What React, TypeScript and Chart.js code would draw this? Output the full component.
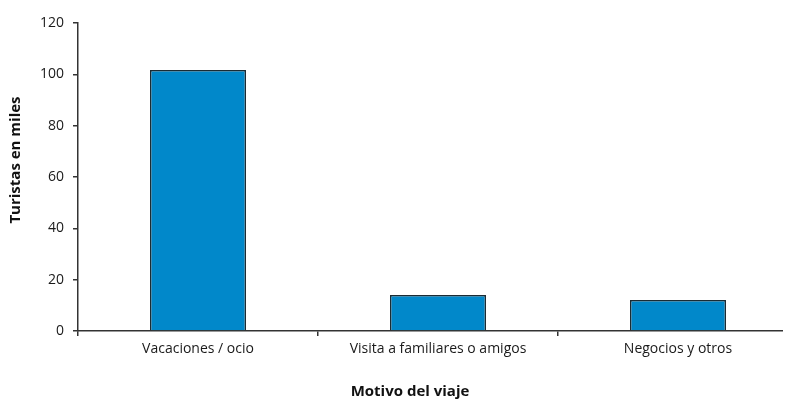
import React, { useEffect, useRef } from "react";
import { Chart, registerables } from "chart.js";

Chart.register(...registerables);

const categories = ["Vacaciones / ocio", "Visita a familiares o amigos", "Negocios y otros"];
const tourists = [101.7, 14.0, 12.1];
const yTicks = [0, 20, 40, 60, 80, 100, 120];
const yTitle = "Turistas en miles";
const xTitle = "Motivo del viaje";

const FONT = "'Open Sans', Lato, sans-serif";

const titlesPlugin = {
  id: "customTitles",
  afterDraw(chart: any) {
    const ctx = chart.ctx;
    ctx.save();
    ctx.fillStyle = "#111";
    ctx.font = `bold 15px ${FONT}`;
    ctx.textAlign = "center";
    ctx.textBaseline = "middle";
    ctx.fillText(xTitle, 410, 392);
    ctx.translate(16, 160);
    ctx.rotate(-Math.PI / 2);
    ctx.fillText(yTitle, 0, 0);
    ctx.restore();
  },
};

export default function App() {
  const ref = useRef<HTMLCanvasElement>(null);
  useEffect(() => {
    if (!ref.current) return;
    const chart = new Chart(ref.current, {
      type: "bar",
      data: {
        labels: categories,
        datasets: [
          {
            data: tourists,
            backgroundColor: "#0188CA",
            borderColor: "#1b2b33",
            borderWidth: 1.5,
            barPercentage: 0.4,
            categoryPercentage: 1,
          },
        ],
      },
      options: {
        animation: false,
        responsive: false,
        maintainAspectRatio: false,
        layout: { padding: { top: 23, right: 2, left: 0, bottom: 0 } },
        plugins: { legend: { display: false }, tooltip: { enabled: false } },
        scales: {
          x: {
            grid: { drawOnChartArea: false, drawTicks: true, tickLength: 5, color: "#333", lineWidth: 1.5 },
            border: { color: "#333", width: 1.5 },
            ticks: { color: "#1a1a1a", font: { family: FONT, size: 14 }, padding: 5, maxRotation: 0 },
            afterFit: (s: any) => { s.height = 68; },
          },
          y: {
            min: 0,
            max: 120,
            afterBuildTicks: (s: any) => { s.ticks = yTicks.map((v) => ({ value: v })); },
            grid: { drawOnChartArea: false, drawTicks: true, tickLength: 5, color: "#333", lineWidth: 1.5 },
            border: { color: "#333", width: 1.5 },
            ticks: { color: "#1a1a1a", font: { family: FONT, size: 14 }, padding: 9 },
            afterFit: (s: any) => { s.width = 78; },
          },
        },
      },
      plugins: [titlesPlugin],
    });
    return () => chart.destroy();
  }, []);
  return (
    <div style={{ position: "absolute", left: 0, top: 0, width: 783, height: 399, overflow: "hidden", background: "#fff" }}>
      <div style={{ width: 800, height: 399 }}>
        <canvas ref={ref} width={800} height={399} style={{ width: 800, height: 399 }} />
      </div>
    </div>
  );
}
